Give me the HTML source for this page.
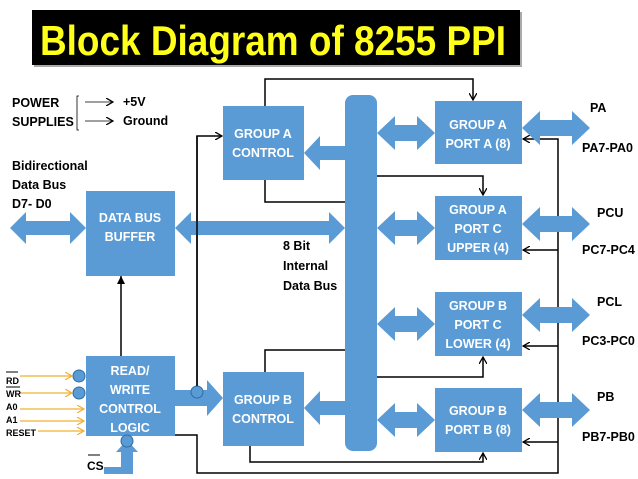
<!DOCTYPE html>
<html><head><style>
html,body{margin:0;padding:0;background:#fff;width:638px;height:479px;overflow:hidden}
svg{display:block}
text{font-family:"Liberation Sans",sans-serif;font-weight:bold}
</style></head><body>
<svg width="638" height="479" viewBox="0 0 638 479" xmlns="http://www.w3.org/2000/svg">
<defs>
<marker id="ah" markerWidth="8" markerHeight="8" refX="7" refY="4" orient="auto" markerUnits="userSpaceOnUse">
<path d="M0,0 L7,4 L0,8" fill="none" stroke="#000" stroke-width="1.3"/></marker>
<marker id="ay" markerWidth="8" markerHeight="8" refX="7" refY="4" orient="auto" markerUnits="userSpaceOnUse">
<path d="M0,0 L7,4 L0,8" fill="none" stroke="#f0b030" stroke-width="1.2"/></marker>
</defs>
<!-- title -->
<rect x="34" y="12" width="488" height="55" fill="#555" opacity="0.5"/>
<rect x="32" y="10" width="488" height="55" fill="#000"/>
<text x="40" y="55" font-size="42" fill="#ffff1a" textLength="466" lengthAdjust="spacingAndGlyphs">Block Diagram of 8255 PPI</text>

<!-- power -->
<g font-size="12.5" fill="#000">
<text x="12" y="107">POWER</text>
<text x="12" y="126">SUPPLIES</text>
<text x="123" y="106">+5V</text>
<text x="123" y="125">Ground</text>
<text x="12" y="170">Bidirectional</text>
<text x="12" y="189">Data Bus</text>
<text x="12" y="208">D7- D0</text>
<text x="283" y="250">8 Bit</text>
<text x="283" y="270">Internal</text>
<text x="283" y="290">Data Bus</text>
<text x="590" y="112">PA</text>
<text x="582" y="152">PA7-PA0</text>
<text x="597" y="217">PCU</text>
<text x="582" y="254">PC7-PC4</text>
<text x="597" y="306">PCL</text>
<text x="582" y="345">PC3-PC0</text>
<text x="597" y="401">PB</text>
<text x="582" y="441">PB7-PB0</text>
</g>
<path d="M79,96 L77,96 L77,130 L79,130" fill="none" stroke="#000" stroke-width="0.8"/>
<line x1="85" y1="102" x2="113" y2="102" stroke="#000" stroke-width="0.8" marker-end="url(#ah)"/>
<line x1="85" y1="121" x2="113" y2="121" stroke="#000" stroke-width="0.8" marker-end="url(#ah)"/>

<!-- connector lines -->
<g fill="none" stroke="#000" stroke-width="1.5">
<path d="M265,106 V79 H473 V100" marker-end="url(#ah)"/>
<path d="M265,180 V202 H346"/>
<path d="M377,176 H483 V195" marker-end="url(#ah)"/>
<path d="M377,377 H483 V357" marker-end="url(#ah)"/>
<path d="M265,372 V350 H346"/>
<path d="M250,446 V462 H483 V453" marker-end="url(#ah)"/>
<path d="M175,435 H197 V473 H558 V139 H523" marker-end="url(#ah)"/>
<path d="M558,250 H523" marker-end="url(#ah)"/>
<path d="M558,346 H523" marker-end="url(#ah)"/>
<path d="M558,442 H523" marker-end="url(#ah)"/>
<path d="M197,392 V136 H222" marker-end="url(#ah)"/>
<path d="M121,356 V276"/>
</g>
<path d="M121,276 l-4,8 h8 z" fill="#000"/>

<g fill="#5b9bd5">
<rect x="345" y="95" width="32" height="356" rx="8"/>
<rect x="223" y="106" width="81" height="74"/>
<rect x="223" y="372" width="81" height="74"/>
<rect x="86" y="191" width="89" height="85"/>
<rect x="86" y="356" width="89" height="80"/>
<rect x="435" y="101" width="87" height="63"/>
<rect x="435" y="196" width="87" height="64"/>
<rect x="435" y="292" width="87" height="64"/>
<rect x="435" y="388" width="87" height="64"/>
<path d="M10,228 L26,212 V221 H70 V212 L86,228 L70,244 V235 H26 V244 Z"/>
<path d="M175,228 L191,212 V221 H329 V212 L345,228 L329,244 V235 H191 V244 Z"/>
<path d="M304,153 L320,136 V146 H345 V160 H320 V170 Z"/>
<path d="M304,408 L320,391 V401 H345 V415 H320 V425 Z"/>
<path d="M175,390 H207 V380 L223,398 L207,416 V406 H175 Z"/>
</g>
<g fill="#5b9bd5">
<path d="M377,0 L395,-17 V-8 H417 V-17 L435,0 L417,17 V8 H395 V17 Z" transform="translate(0,133)"/>
<path d="M377,0 L395,-17 V-8 H417 V-17 L435,0 L417,17 V8 H395 V17 Z" transform="translate(0,228)"/>
<path d="M377,0 L395,-17 V-8 H417 V-17 L435,0 L417,17 V8 H395 V17 Z" transform="translate(0,324)"/>
<path d="M377,0 L395,-17 V-8 H417 V-17 L435,0 L417,17 V8 H395 V17 Z" transform="translate(0,420)"/>
<path d="M522,0 L540,-17 V-8 H572 V-17 L590,0 L572,17 V8 H540 V17 Z" transform="translate(0,128)"/>
<path d="M522,0 L540,-17 V-8 H572 V-17 L590,0 L572,17 V8 H540 V17 Z" transform="translate(0,224)"/>
<path d="M522,0 L540,-17 V-8 H572 V-17 L590,0 L572,17 V8 H540 V17 Z" transform="translate(0,315)"/>
<path d="M522,0 L540,-17 V-8 H572 V-17 L590,0 L572,17 V8 H540 V17 Z" transform="translate(0,410)"/>
<path d="M104,467 H121 V452 H116 L127,440 L138,452 H133 V474 H104 Z"/>
</g>
<g fill="#5b9bd5" stroke="#2e6da4" stroke-width="1">
<circle cx="79" cy="376" r="6"/>
<circle cx="79" cy="393" r="6"/>
<circle cx="127" cy="441" r="6"/>
<circle cx="197" cy="392" r="6"/>
</g>
<line x1="197" y1="386" x2="197" y2="136" stroke="#000" stroke-width="1.5"/>

<g stroke="#f0b030" stroke-width="1.2" fill="none">
<line x1="20" y1="376" x2="72" y2="376" marker-end="url(#ay)"/>
<line x1="20" y1="393" x2="72" y2="393" marker-end="url(#ay)"/>
<line x1="20" y1="409" x2="84" y2="409" marker-end="url(#ay)"/>
<line x1="20" y1="421" x2="84" y2="421" marker-end="url(#ay)"/>
<line x1="38" y1="431" x2="84" y2="431" marker-end="url(#ay)"/>
</g>
<g font-size="9" fill="#000">
<text x="6" y="384">RD</text><line x1="6" y1="372" x2="18" y2="372" stroke="#000"/>
<text x="6" y="397">WR</text><line x1="6" y1="387" x2="20" y2="387" stroke="#000"/>
<text x="6" y="410">A0</text>
<text x="6" y="423">A1</text>
<text x="6" y="436">RESET</text>
</g>
<text x="87" y="470" font-size="12" fill="#000">CS</text>
<line x1="88" y1="455" x2="100" y2="455" stroke="#000" stroke-width="1"/>

<g font-size="12.5" fill="#fff" text-anchor="middle">
<text x="263" y="138">GROUP A</text><text x="263" y="157">CONTROL</text>
<text x="263" y="404">GROUP B</text><text x="263" y="423">CONTROL</text>
<text x="130" y="222">DATA BUS</text><text x="130" y="241">BUFFER</text>
<text x="130" y="375">READ/</text><text x="130" y="394">WRITE</text><text x="130" y="413">CONTROL</text><text x="130" y="432">LOGIC</text>
<text x="478" y="129">GROUP A</text><text x="478" y="148">PORT A (8)</text>
<text x="478" y="214">GROUP A</text><text x="478" y="233">PORT C</text><text x="478" y="252">UPPER (4)</text>
<text x="478" y="310">GROUP B</text><text x="478" y="329">PORT C</text><text x="478" y="348">LOWER (4)</text>
<text x="478" y="415">GROUP B</text><text x="478" y="434">PORT B (8)</text>
</g>
</svg>
</body></html>
